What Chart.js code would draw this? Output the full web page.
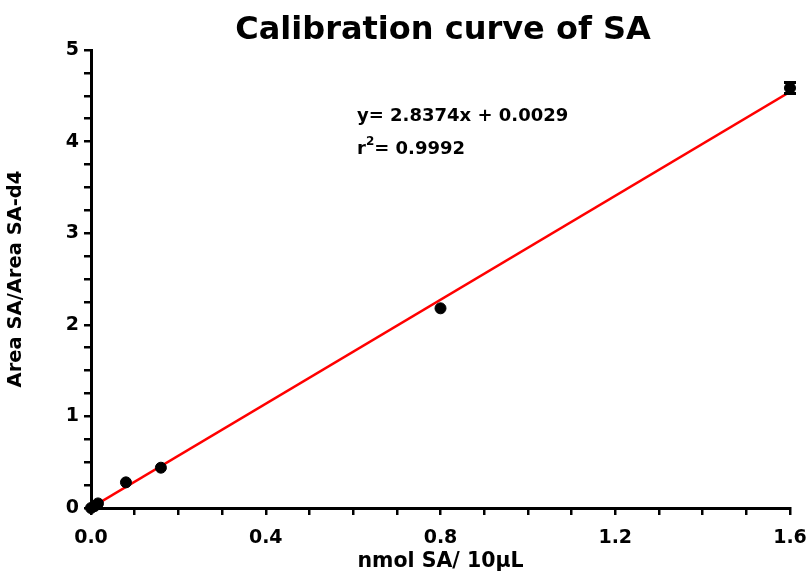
<!DOCTYPE html>
<html><head><meta charset="utf-8">
<script src="https://cdn.jsdelivr.net/npm/chart.js@4.4.1/dist/chart.umd.min.js"></script>
<style>html,body{margin:0;padding:0;background:#fff}#wrap{width:811px;height:578px}</style>
</head><body><div id="wrap"><canvas id="c" width="811" height="578"></canvas></div>
<script>
const xValues = [0, 0.008, 0.016, 0.08, 0.16, 0.8, 1.6];
const yValues = [0, 0.02, 0.05, 0.28, 0.44, 2.18, 4.585];
const yErrors = [0, 0, 0, 0, 0, 0, 0.06];
const slope = 2.8374, intercept = 0.0029;
const fitX = [0, 1.6];
const xMajorLabels = [0, 0.4, 0.8, 1.2, 1.6];
const yMajorLabels = [0, 1, 2, 3, 4, 5];

const points = xValues.map((x,i)=>({x, y:yValues[i]}));
const fitLine = fitX.map(x=>({x, y: slope*x+intercept}));
const FONT = '"DejaVu Sans", sans-serif';

const extras = {
  id:'extras',
  afterDatasetsDraw(chart){
    const ctx = chart.ctx, xs = chart.scales.x, ys = chart.scales.y;
    ctx.save();
    ctx.strokeStyle='#000'; ctx.lineWidth=3;
    xValues.forEach((x,i)=>{
      if(!yErrors[i]) return;
      const px = xs.getPixelForValue(x);
      const t = ys.getPixelForValue(yValues[i]+yErrors[i]);
      const b = ys.getPixelForValue(yValues[i]-yErrors[i]);
      ctx.beginPath(); ctx.moveTo(px,t); ctx.lineTo(px,b);
      ctx.moveTo(px-6,t); ctx.lineTo(px+6,t);
      ctx.moveTo(px-6,b); ctx.lineTo(px+6,b); ctx.stroke();
    });
    ctx.fillStyle='#000'; ctx.textAlign='center'; ctx.textBaseline='middle';
    ctx.font='bold 32px '+FONT;
    ctx.fillText('Calibration curve of SA', 443, 31);
    ctx.textAlign='left'; ctx.textBaseline='alphabetic';
    ctx.font='bold 18px '+FONT;
    ctx.fillText('y= 2.8374x + 0.0029', 357, 121);
    ctx.fillText('r', 357, 154);
    const rw = ctx.measureText('r').width;
    ctx.font='bold 12px '+FONT;
    ctx.fillText('2', 357+rw, 145);
    const sw = ctx.measureText('2').width;
    ctx.font='bold 18px '+FONT;
    ctx.fillText('= 0.9992', 357+rw+sw, 154);
    ctx.restore();
  }
};

new Chart(document.getElementById('c'), {
  type:'scatter',
  data:{datasets:[
    {data:points, backgroundColor:'#000', borderColor:'#000', pointRadius:5.5, pointHoverRadius:5.5, order:1, clip:false},
    {type:'line', data:fitLine, borderColor:'#ff0000', borderWidth:2.5, pointRadius:0, fill:false, order:2}
  ]},
  options:{
    responsive:false, animation:false, events:[],
    layout:{padding:{top:50,right:21,left:0,bottom:0}},
    plugins:{legend:{display:false}, tooltip:{enabled:false}},
    scales:{
      x:{type:'linear', min:0, max:1.6,
        border:{display:true,color:'#000',width:3},
        grid:{display:true, drawOnChartArea:false, drawTicks:true, tickLength:7, color:'#000', lineWidth:2.5},
        ticks:{stepSize:0.1, autoSkip:false, maxRotation:0, color:'#000', padding:12,
          font:{family:FONT, size:19, weight:'bold'},
          callback:(v)=>{const m = xMajorLabels.find(t=>Math.abs(t-v)<1e-6); return m===undefined?'':m.toFixed(1);}},
        title:{display:true, text:'nmol SA/ 10µL', color:'#000', padding:{top:3},
          font:{family:FONT, size:20.5, weight:'bold'}},
        afterFit:(s)=>{s.height=70; s.paddingRight=0; s.paddingLeft=0;}
      },
      y:{type:'linear', min:0, max:5,
        border:{display:true,color:'#000',width:3},
        grid:{display:true, drawOnChartArea:false, drawTicks:true, tickLength:7, color:'#000', lineWidth:2.5},
        ticks:{stepSize:0.25, autoSkip:false, color:'#000', padding:5,
          font:{family:FONT, size:19, weight:'bold'},
          callback:(v)=>{const m = yMajorLabels.find(t=>Math.abs(t-v)<1e-6); return m===undefined?'':String(m);}},
        title:{display:true, text:'Area SA/Area SA-d4', color:'#000', padding:{bottom:14},
          font:{family:FONT, size:19.5, weight:'bold'}},
        afterFit:(s)=>{s.width=91;}
      }
    }
  },
  plugins:[extras]
});
</script></body></html>
